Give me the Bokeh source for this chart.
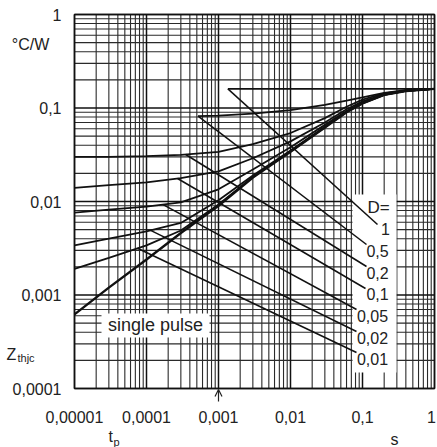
import numpy as np
from bokeh.plotting import figure
from bokeh.models import Label, Arrow, OpenHead
from bokeh.embed import file_html
from bokeh.resources import INLINE

# ---------------- data ----------------
t_pts = [1e-5, 3e-5, 1e-4, 3e-4, 1e-3, 3e-3, 1e-2, 3e-2, 0.06, 0.1, 0.2, 0.4, 1.0]
z_single = [0.00062, 0.0012, 0.0024, 0.0046, 0.009, 0.018, 0.034, 0.062, 0.090, 0.112, 0.138, 0.152, 0.16]
z_d001 = [0.0019, 0.0025, 0.0034, 0.0049, 0.0093, 0.0183, 0.0343, 0.0623, 0.0903, 0.1123, 0.1382, 0.1521, 0.16]
z_d002 = [0.0034, 0.0040, 0.0048, 0.0059, 0.0103, 0.019, 0.0352, 0.063, 0.091, 0.113, 0.1385, 0.1522, 0.16]
z_d005 = [0.0076, 0.0082, 0.0088, 0.0098, 0.0135, 0.022, 0.038, 0.066, 0.093, 0.115, 0.139, 0.1525, 0.16]
z_d01 = [0.014, 0.015, 0.016, 0.0178, 0.021, 0.029, 0.044, 0.070, 0.097, 0.118, 0.140, 0.153, 0.16]
z_d02 = [0.030, 0.030, 0.0305, 0.0315, 0.034, 0.041, 0.054, 0.078, 0.103, 0.123, 0.143, 0.154, 0.16]
t_d05 = [5.2e-4, 1e-3, 3e-3, 1e-2, 3e-2, 0.06, 0.1, 0.2, 0.4, 1.0]
z_d05 = [0.082, 0.083, 0.087, 0.095, 0.108, 0.120, 0.130, 0.145, 0.155, 0.16]
t_d1 = [1.35e-3, 1.0]
z_d1 = [0.16, 0.16]

d_labels = ["1", "0,5", "0,2", "0,1", "0,05", "0,02", "0,01"]
# t where each label's leader line leaves its curve
leader_t = [1.35e-3, 5.2e-4, 3.5e-4, 2.7e-4, 1.7e-4, 1.14e-4, 7.5e-5]

x_ticks = [1e-5, 1e-4, 1e-3, 1e-2, 1e-1, 1.0]
x_tick_labels = ["0,00001", "0,0001", "0,001", "0,01", "0,1", "1"]
y_ticks = [1e-4, 1e-3, 1e-2, 1e-1, 1.0]
y_tick_labels = ["0,0001", "0,001", "0,01", "0,1", "1"]
X_MIN, X_MAX = 1e-5, 1.0
Y_MIN, Y_MAX = 1e-4, 1.0

# ---------------- layout helpers ----------------
W, H = 437, 447
FL, FR, FT, FB = 74, 434, 14, 388   # chart-area edges in page pixels


def dx(px):
    return 10 ** (np.log10(X_MIN) + np.log10(X_MAX / X_MIN) * (px - FL) / (FR - FL))


def dy(py):
    return 10 ** (np.log10(Y_MIN) + np.log10(Y_MAX / Y_MIN) * (FB - py) / (FB - FT))


def minors(lo, hi):
    return [k * 10.0 ** e for e in range(lo, hi) for k in range(2, 10)]


FONT = "Liberation Sans"
TXT = "#222"

# the frame fills the whole canvas so that every text can be placed freely
p = figure(width=W, height=H, x_axis_type="log", y_axis_type="log",
           x_range=(dx(0), dx(W)), y_range=(dy(H), dy(0)),
           x_axis_location=None, y_axis_location=None,
           output_backend="svg", toolbar_location=None,
           min_border_left=0, min_border_right=0, min_border_top=0, min_border_bottom=0)
p.grid.visible = False
p.outline_line_color = None
p.background_fill_color = "white"
p.border_fill_color = "white"

# log grid of the chart area
x_minor = minors(-5, 0)
y_minor = minors(-4, 0)
p.segment(x0=x_minor, y0=[Y_MIN] * len(x_minor), x1=x_minor, y1=[Y_MAX] * len(x_minor),
          line_color="#2a2a2a", line_width=1.1)
p.segment(x0=[X_MIN] * len(y_minor), y0=y_minor, x1=[X_MAX] * len(y_minor), y1=y_minor,
          line_color="#2a2a2a", line_width=1.1)
p.segment(x0=x_ticks, y0=[Y_MIN] * len(x_ticks), x1=x_ticks, y1=[Y_MAX] * len(x_ticks),
          line_color="#111", line_width=1.5)
p.segment(x0=[X_MIN] * len(y_ticks), y0=y_ticks, x1=[X_MAX] * len(y_ticks), y1=y_ticks,
          line_color="#111", line_width=1.5)

# white boxes behind the labels
p.quad(left=[dx(352), dx(101)], right=[dx(396), dx(209)],
       bottom=[dy(372), dy(337)], top=[dy(194), dy(313)],
       fill_color="white", line_color=None)

# frame
p.quad(left=[X_MIN], right=[X_MAX], bottom=[Y_MIN], top=[Y_MAX],
       fill_color=None, line_color="#111", line_width=1.5)

# tick labels
p.text(x=x_ticks, y=[dy(416)] * len(x_ticks), text=x_tick_labels, text_font={"value": FONT},
       text_font_size="16px", text_align="center", text_baseline="middle", text_color=TXT,
       x_offset=[0, 0, 0, 0, 0, -3])
p.text(x=[dx(61)] * len(y_ticks), y=y_ticks, text=y_tick_labels, text_font={"value": FONT},
       text_font_size="16px", text_align="right", text_baseline="middle", text_color=TXT)

# curves
curves = [(t_d1, z_d1), (t_d05, z_d05), (t_pts, z_d02), (t_pts, z_d01),
          (t_pts, z_d005), (t_pts, z_d002), (t_pts, z_d001)]
for tx, zy in curves:
    p.line(tx, zy, line_color="#111", line_width=1.8)
p.line(t_pts, z_single, line_color="#111", line_width=2.4)

# leader lines from curves to labels
ends_px = [(377, 224), (366, 244), (366, 266), (365, 288), (356, 309), (356, 331), (356, 352)]
x0, y0, x1, y1 = [], [], [], []
for (tx, zy), tl, (ex, ey) in zip(curves, leader_t, ends_px):
    yl = 10 ** np.interp(np.log10(tl), np.log10(tx), np.log10(zy))
    x0.append(tl); y0.append(yl); x1.append(dx(ex)); y1.append(dy(ey))
p.segment(x0, y0, x1, y1, line_color="#111", line_width=1.5)


def label(px, py, text, size, align="center", baseline="middle"):
    p.add_layout(Label(x=dx(px), y=dy(py), text=text, text_font=FONT,
                       text_font_size=f"{size}px", text_align=align,
                       text_baseline=baseline, text_color=TXT))


label_pos = [(385, 228), (377, 250), (377, 272), (377, 293), (372, 315), (372, 337), (372, 358)]
for txt, (lx, ly) in zip(d_labels, label_pos):
    label(lx, ly, txt, 16)
label(378, 207, "D=", 17)
label(155, 324, "single pulse", 18)
label(30, 44, "°C/W", 16)
label(6, 354, "Z", 16, "left", "alphabetic")
label(17, 357, "thjc", 11, "left", "alphabetic")
label(108, 436, "t", 16, "left", "alphabetic")
label(113, 441, "p", 11, "left", "alphabetic")
label(390, 439, "s", 16, "left", "alphabetic")

p.add_layout(Arrow(end=OpenHead(size=7, line_width=1.2, line_color=TXT),
                   x_start=1e-3, y_start=dy(401), x_end=1e-3, y_end=dy(389),
                   line_width=1.2, line_color=TXT))

open("out.html", "w").write(file_html(p, INLINE))
